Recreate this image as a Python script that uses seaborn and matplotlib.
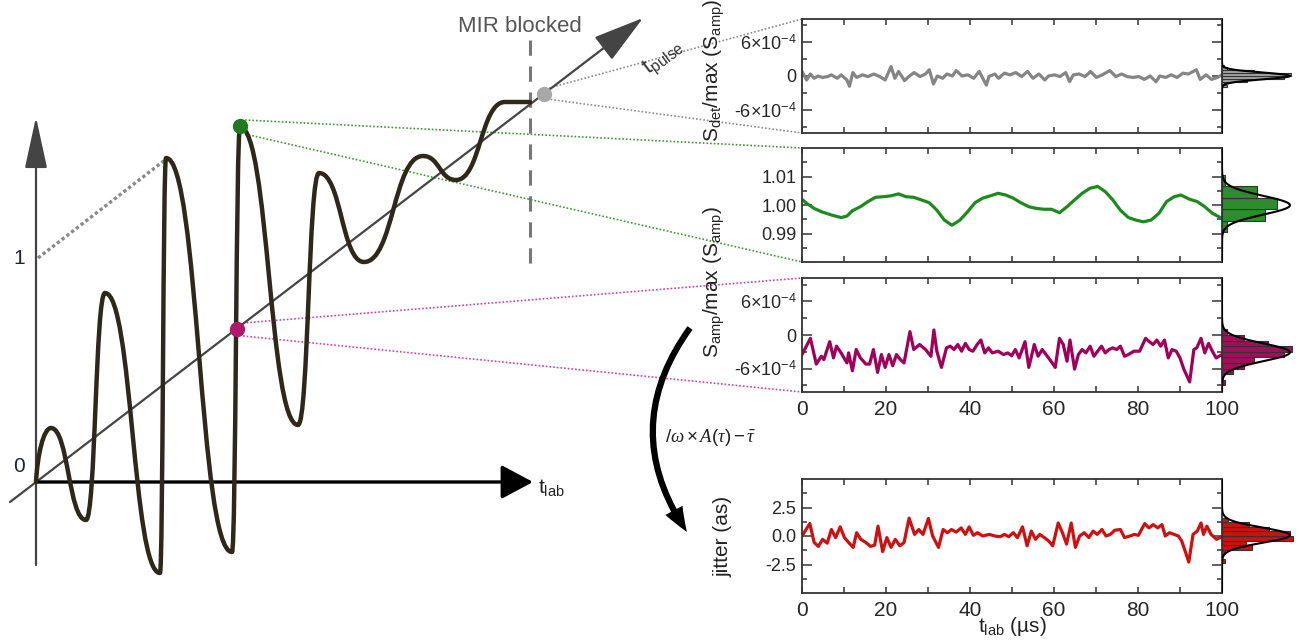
import numpy as np
import matplotlib
matplotlib.use("Agg")
import matplotlib.pyplot as plt
import seaborn as sns
from matplotlib.path import Path
from matplotlib.patches import PathPatch, FancyArrowPatch
from matplotlib.ticker import MultipleLocator, FixedLocator, FixedFormatter

sns.set_theme(style="ticks")
plt.rcParams['font.family'] = ['Liberation Sans', 'DejaVu Sans']
plt.rcParams['mathtext.fontset'] = 'custom'
plt.rcParams['mathtext.rm'] = 'Liberation Sans'
plt.rcParams['mathtext.it'] = 'Liberation Serif:italic'
plt.rcParams['mathtext.cal'] = 'Liberation Serif:italic'

# ---- data (t in us) ----
# grey: S_det / max(S_amp), MIR blocked, units of 1e-4
t_det = [0, 1.1, 2.0, 2.9, 3.8, 4.9, 6.1, 7.0, 8.4, 9.3, 10.7, 11.3, 12.1, 13.0, 14.4, 15.7, 17.1,
         18.5, 19.8, 21.2, 22.1, 23.0, 24.4, 25.6, 26.7, 28.1, 29.4, 30.3, 31.3, 32.2, 33.5, 34.5,
         35.8, 36.7, 38.1, 39.5, 40.9, 42.2, 43.9, 44.5, 45.9, 46.8, 48.2, 49.5, 50.9, 52.3, 53.7,
         55.0, 56.4, 57.8, 58.7, 60.1, 61.4, 62.8, 63.7, 64.6, 66.0, 67.4, 68.7, 70.1, 71.5, 73.3,
         74.7, 76.1, 77.4, 78.8, 80.2, 81.5, 82.9, 84.3, 85.2, 86.6, 87.9, 89.3, 90.7, 92.0, 93.9,
         94.8, 96.2, 97.5, 98.9, 100]
s_det = [0.8, -0.7, 0.35, -0.4, 0.0, -0.25, -0.1, 0.2, -0.4, 0.2, -0.7, -1.8, 0.6, -0.25, 0.2,
         -0.1, 0.35, -0.1, -0.7, 1.65, -0.4, 0.8, -0.8, 0.0, 0.6, -0.1, 0.35, 1.1, -1.4, 0.0,
         -0.4, 0.35, 0.0, 0.95, 0.0, 0.2, -0.4, 0.8, -1.6, -0.1, 0.35, -0.4, 0.5, 0.2, 0.6, -0.1,
         0.8, -0.4, 0.35, -0.7, 0.0, 0.2, -0.1, 0.6, -1.0, 0.2, 0.35, -0.1, 0.8, -0.25, 0.2, 0.95,
         -0.1, 0.35, -0.1, -0.25, -0.1, -0.6, 0.0, -1.0, 0.0, -0.25, 0.2, -0.25, 0.5, 0.35, 1.1,
         -0.6, 0.2, -0.6, -0.25, 0.2]

# green: S_amp / max(S_amp)
t_amp = [0, 1.1, 2.9, 4.7, 7.0, 9.3, 10.7, 12.0, 13.9, 15.7, 17.5, 19.3, 21.1, 23.0, 24.8, 26.6,
         28.4, 30.3, 32.1, 33.9, 35.7, 37.6, 39.4, 41.2, 43.0, 44.8, 46.7, 48.5, 50.3, 52.1, 54.0,
         55.8, 57.6, 59.4, 61.3, 63.1, 64.9, 66.7, 68.6, 70.4, 72.2, 74.0, 75.8, 77.7, 79.5, 81.3,
         83.1, 85.0, 86.8, 88.6, 90.2, 92.3, 94.1, 95.9, 97.7, 100]
s_amp = [1.0020, 1.0006, 0.9988, 0.9976, 0.9965, 0.9956, 0.9961, 0.9980, 0.9994, 1.0012, 1.0027,
         1.0029, 1.0032, 1.0039, 1.0029, 1.0027, 1.0018, 1.0008, 0.9982, 0.9947, 0.9929, 0.9947,
         0.9976, 1.0008, 1.0024, 1.0032, 1.0041, 1.0035, 1.0024, 1.0008, 0.9994, 0.9988, 0.9985,
         0.9985, 0.9973, 0.9994, 1.0018, 1.0041, 1.0059, 1.0065, 1.0047, 1.0018, 0.9982, 0.9956,
         0.9947, 0.9941, 0.9947, 0.9971, 1.0012, 1.0029, 1.0035, 1.0020, 1.0012, 0.9994, 0.9971,
         0.9953]

# magenta: S_amp / max(S_amp) with MIR, units of 1e-4
t_mir = [0, 2.0, 3.4, 4.6, 5.2, 6.6, 7.5, 8.2, 9.3, 10.7, 11.1, 12.0, 12.9, 13.9, 15.2, 16.1, 17.0,
         18.0, 18.9, 19.8, 20.7, 21.6, 22.5, 23.4, 24.3, 25.7, 26.6, 28.0, 29.4, 30.7, 31.4, 32.1,
         33.2, 34.4, 35.3, 36.2, 37.1, 38.0, 38.9, 39.8, 40.7, 41.7, 42.6, 43.5, 44.4, 45.3, 46.7,
         48.0, 49.0, 49.9, 50.8, 51.7, 53.1, 54.0, 55.3, 56.2, 57.2, 58.1, 59.0, 60.3, 61.3, 62.2,
         63.1, 63.8, 64.9, 65.8, 66.7, 67.6, 68.6, 69.5, 70.4, 71.3, 72.2, 73.1, 74.0, 74.9, 75.8,
         76.8, 77.7, 79.0, 80.4, 81.8, 82.7, 83.6, 84.5, 85.4, 86.3, 87.2, 88.1, 89.1, 90.0, 90.9,
         92.3, 93.3, 94.0, 95.0, 95.9, 96.8, 97.7, 98.6, 100]
s_mir = [-3.5, -0.6, -5.2, -3.8, -4.4, -1.2, -4.1, -2.0, -3.2, -5.0, -3.2, -6.4, -2.6, -4.1, -5.2,
         -5.2, -2.6, -6.7, -3.5, -5.8, -3.5, -5.5, -3.5, -4.4, -5.0, 0.6, -2.6, -1.7, -2.6, -3.8,
         0.9, -2.9, -5.8, -2.3, -2.0, -2.6, -1.7, -2.9, -1.5, -2.6, -2.9, -1.7, -0.9, -3.2, -2.3,
         -3.2, -2.9, -3.5, -3.2, -3.7, -2.6, -4.1, -1.2, -5.8, -1.7, -3.8, -2.6, -3.5, -4.4, -5.8,
         -0.6, -1.7, -4.7, -0.9, -6.1, -3.5, -2.6, -3.2, -2.0, -3.8, -2.9, -2.0, -3.2, -2.6, -2.3,
         -2.6, -2.0, -3.8, -3.5, -2.9, -2.9, -0.6, -1.2, -1.7, -0.9, -2.0, -0.9, -4.1, -2.6, -2.9,
         -4.1, -6.1, -8.4, -2.6, -2.3, -0.6, -3.2, -1.5, -2.9, -4.1, -3.5]

# red: timing jitter (as)
t_jit = [0, 1.85, 2.9, 3.9, 4.9, 6.0, 7.0, 8.0, 9.1, 10.1, 11.1, 12.2, 13.0, 14.0, 15.2, 16.3, 17.3,
         18.1, 19.2, 20.2, 21.2, 22.2, 23.3, 24.3, 25.5, 26.8, 27.8, 28.8, 30.1, 31.1, 32.5, 33.6,
         34.6, 35.6, 36.7, 37.9, 38.9, 39.8, 40.8, 41.8, 43.0, 44.6, 45.9, 47.2, 48.2, 49.2, 50.3,
         51.3, 52.5, 53.6, 54.6, 55.6, 56.6, 57.7, 58.7, 59.7, 61.0, 62.0, 63.0, 64.1, 65.1, 66.1,
         67.2, 68.3, 69.3, 70.3, 71.4, 72.4, 73.4, 74.5, 75.8, 76.8, 78.1, 79.1, 80.1, 81.6, 82.6,
         83.6, 84.7, 85.7, 86.5, 87.5, 88.6, 89.6, 90.4, 92.1, 93.1, 94.1, 95.0, 95.6, 96.4, 97.4,
         98.7, 100]
jitter = [0.0, 1.09, -0.57, -0.91, -0.29, -0.63, 0.57, -0.14, 0.80, -0.14, -0.57, -1.00, 0.29,
          -0.29, -0.57, -0.91, -0.80, 0.86, -1.37, -0.14, -1.00, -0.29, -0.86, -0.57, 1.57, 0.14,
          0.57, 0.14, 1.54, 0.0, -1.0, 0.57, 0.29, 0.57, 0.34, 0.71, 0.14, 0.80, 0.06, 0.29, 0.0,
          0.14, 0.0, -0.06, 0.14, -0.06, 0.29, -0.14, 0.80, -0.86, 0.43, -0.29, 0.14, -0.14, -0.43,
          -0.86, 1.14, 0.29, -0.71, 1.14, -1.0, 0.0, 0.29, -0.14, 0.43, 0.14, 0.57, 0.0, 0.14, 0.51,
          0.57, -0.14, 0.0, 0.14, 0.06, 1.09, 0.71, 1.0, 0.71, 1.0, 0.0, 0.29, 0.14, 0.0, -0.43,
          -2.29, 0.14, 0.43, 1.14, 0.14, 0.86, 0.14, -0.29, -0.06]

x_ticks = [0, 20, 40, 60, 80, 100]
sci_labels = [r'-6×10$^{\mathrm{-4}}$', '0', r'6×10$^{\mathrm{-4}}$']

# schematic waveform extrema (sketch pixel frame)
wave_x = [36, 51, 86, 105, 160, 166, 232, 240, 298, 319, 364, 423, 456, 505]
wave_y = [482, 428, 520, 293, 573, 158, 552, 127, 425, 173, 262, 156, 180, 102]

W, H = 1301, 643
fig = plt.figure(figsize=(W / 100, H / 100), dpi=100)


def rect(x, y, w, h):
    return [x / W, 1 - (y + h) / H, w / W, h / H]


# ---- left sketch ----
sk = fig.add_axes([0, 0, 1, 1])
sk.set_xlim(0, W)
sk.set_ylim(H, 0)
sk.axis('off')

# connector lines
for (x0, y0), (x1, y1), c in [((549, 88), (802, 19), '#8c8c8c'), ((547, 99), (802, 133), '#8c8c8c'),
                              ((245, 120), (802, 148), '#3c9a32'), ((245, 134), (802, 262), '#3c9a32'),
                              ((243, 323), (802, 278), '#d8409a'), ((243, 336), (802, 392), '#d8409a')]:
    sk.plot([x0, x1], [y0, y1], ls=(0, (1, 1.2)), lw=1.2, color=c, zorder=1)

sk.plot([38, 165], [258, 160], ls=(0, (1, 0.8)), lw=2.4, color='#8a8a8a', zorder=1)
sk.plot([530, 530], [40, 272], ls=(0, (5, 3.5)), lw=2.2, color='#777777', zorder=1)

# axes arrows
arrow_kw = dict(mutation_scale=14, shrinkA=0, shrinkB=0, zorder=2)
sk.add_patch(FancyArrowPatch((36, 565), (36, 117), arrowstyle='-|>,head_length=2.3,head_width=0.5',
                             lw=1.6, color='#444444', **arrow_kw))
sk.add_patch(FancyArrowPatch((10, 502), (643, 18), arrowstyle='-|>,head_length=2.3,head_width=0.65',
                             lw=1.6, color='#444444', **arrow_kw))
sk.add_patch(FancyArrowPatch((36, 482), (533, 482), arrowstyle='-|>,head_length=1.4,head_width=0.75',
                             lw=2.4, color='black', **arrow_kw))

# waveform through the extrema
verts = [(wave_x[0], wave_y[0])]
codes = [Path.MOVETO]
for i in range(1, len(wave_x)):
    x0, y0, x1, y1 = wave_x[i - 1], wave_y[i - 1], wave_x[i], wave_y[i]
    dx = x1 - x0
    if i == 1:
        c1 = (x0 + 0.1 * dx, y0 + 0.5 * (y1 - y0))
    else:
        c1 = (x0 + 0.5 * dx, y0)
    verts += [c1, (x1 - 0.5 * dx, y1), (x1, y1)]
    codes += [Path.CURVE4] * 3
verts.append((530, wave_y[-1]))
codes.append(Path.LINETO)
sk.add_patch(PathPatch(Path(verts, codes), fill=False, lw=3.2, color='#2d2817', zorder=3,
                       capstyle='round', joinstyle='round'))

sk.plot([240], [126], 'o', ms=10, color='#1f7a1f', zorder=4)
sk.plot([544], [94], 'o', ms=10, color='#a8a8a8', zorder=4)
sk.plot([237], [329], 'o', ms=10, color='#b0186e', zorder=4)

sk.text(19, 258, '1', fontsize=15, ha='center', va='center', color='#1c2533')
sk.text(19, 466, '0', fontsize=15, ha='center', va='center', color='#1c2533')
sk.text(538, 487, r't$_\mathrm{lab}$', fontsize=15, ha='left', va='center', color='#222222')
sk.text(520, 26, 'MIR blocked', fontsize=16, ha='center', va='center', color='#555555')
sk.text(664, 58, r't$_\mathrm{pulse}$', fontsize=16, ha='center', va='center', rotation=37,
        color='#333333')

# curved arrow + label
sk.add_patch(FancyArrowPatch((690, 328), (687, 532), connectionstyle='arc3,rad=0.35',
                             arrowstyle='simple,head_length=1.3,head_width=1.0,tail_width=0.32',
                             mutation_scale=14, shrinkA=0, shrinkB=0, color='black', lw=0, zorder=2))
sk.text(665, 437, r'$/\omega\times A(\tau)-\bar{\tau}$', fontsize=13.5, ha='left', va='center',
        color='#222222')

# axis titles
sk.text(714, 70, r'S$_\mathrm{det}$/max (S$_\mathrm{amp}$)', fontsize=15, rotation=90,
        ha='center', va='center', color='#222222')
sk.text(714, 282, r'S$_\mathrm{amp}$/max (S$_\mathrm{amp}$)', fontsize=15, rotation=90,
        ha='center', va='center', color='#222222')
sk.text(723, 536, 'jitter (as)', fontsize=15, rotation=90, ha='center', va='center',
        color='#222222')
sk.text(1012, 627, r't$_\mathrm{lab}$ (µs)', fontsize=15, ha='center', va='center', color='#222222')


# ---- right panels ----
def panel(top, t, v, color, fill, ylim, major, minor, labels, binwidth, binrange, xlabels=False):
    ax = fig.add_axes(rect(802, top, 420, 114))
    sns.lineplot(x=t, y=v, ax=ax, color=color, lw=2.3)
    ax.set_xlim(0, 100)
    ax.set_ylim(*ylim)
    ax.xaxis.set_major_locator(FixedLocator(x_ticks))
    ax.xaxis.set_minor_locator(MultipleLocator(10))
    ax.yaxis.set_major_locator(FixedLocator(major))
    ax.yaxis.set_major_formatter(FixedFormatter(labels))
    ax.yaxis.set_minor_locator(FixedLocator(minor))
    ax.tick_params(which='both', direction='in', top=True, right=True, color='#333333', width=1.1)
    ax.tick_params(axis='x', which='both', length=4.5, labelsize=15, pad=6, labelbottom=xlabels)
    ax.tick_params(axis='y', which='major', length=7, labelsize=13, pad=4)
    ax.tick_params(axis='y', which='minor', length=3.5)
    ax.set_xlabel('')
    ax.set_ylabel('')
    for s in ax.spines.values():
        s.set_color('#333333')
        s.set_linewidth(1.3)

    hax = fig.add_axes(rect(1222, top, 79, 114))
    sns.histplot(y=v, ax=hax, binwidth=binwidth, binrange=binrange, color=fill,
                 edgecolor='#333333', linewidth=0.8, alpha=1)
    vv = np.asarray(v)
    mu, sd = vv.mean(), vv.std()
    gy = np.linspace(ylim[0], ylim[1], 300)
    gx = len(vv) * binwidth / (sd * np.sqrt(2 * np.pi)) * np.exp(-0.5 * ((gy - mu) / sd) ** 2)
    hax.plot(gx, gy, color='black', lw=1.5)
    hax.set_ylim(*ylim)
    hax.set_xlim(0, gx.max() / 0.86)
    hax.axis('off')
    return ax


panel(19, t_det, s_det, '#858585', '#a6a6a6', (-10, 10), [-6, 0, 6], [-9, -3, 3, 9],
      sci_labels, 0.5, (-2.0, 2.0))
panel(148, t_amp, s_amp, '#1e8a1e', '#2e8b2e', (0.98, 1.02), [0.99, 1.00, 1.01],
      [0.985, 0.995, 1.005, 1.015], ['0.99', '1.00', '1.01'], 0.004, (0.9905, 1.0105))
panel(278, t_mir, s_mir, '#a0005a', '#a0105a', (-10.2, 10.2), [-6, 0, 6], [-9, -3, 3, 9],
      sci_labels, 1.0, (-9.0, 2.0), xlabels=True)
panel(479, t_jit, jitter, '#d01010', '#d01010', (-5, 5), [-2.5, 0, 2.5], [-3.75, -1.25, 1.25, 3.75],
      ['-2.5', '0.0', '2.5'], 0.4, (-2.4, 1.6), xlabels=True)

fig.savefig('out.png', dpi=100, facecolor='white')
